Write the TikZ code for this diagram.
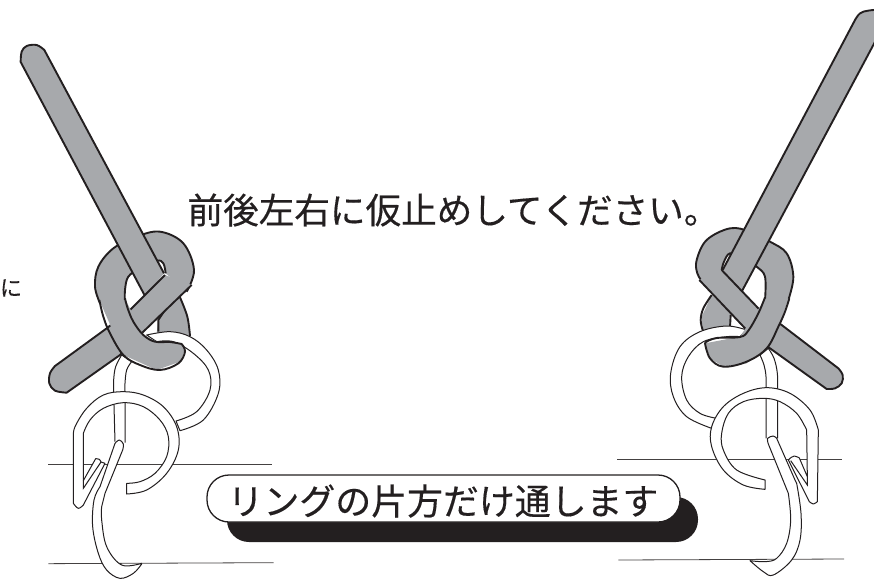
\documentclass[tikz,border=0pt]{standalone}
\usepackage{fontspec}
\setmainfont{Noto Sans CJK JP}
\newfontfamily\capfont[FakeBold=0.35]{Noto Sans CJK JP}
\definecolor{strapgrey}{HTML}{A7A9AC}
\definecolor{inkblack}{HTML}{231F20}
\tikzset{
  strap/.style={fill=strapgrey,draw=inkblack,line width=1.9pt,line join=round},
  bareedge/.style={draw=inkblack,line width=1.9pt,line join=round},
  wire/.style={fill=white,draw=inkblack,line width=1pt,line join=round},
  thinedge/.style={draw=inkblack,line width=1pt},
  rulerline/.style={draw=inkblack!85,line width=.8pt},
  sm/.style={smooth,tension=.6},
  caption/.style={text=inkblack,inner sep=0pt}
}
\begin{document}
\begin{tikzpicture}[x=1pt,y=-1pt]
\useasboundingbox (0,0) rectangle (874,579);
\clip (0,0) rectangle (874,579);
% ---------- left figure (coordinates: 3x, origin at 0,220)
\begin{scope}[x=.33333pt,y=-.33333pt,yshift=-220pt]
\coordinate (LA) at (145,732); \coordinate (LB) at (817,732);
\coordinate (LC) at (145,1031); \coordinate (LD) at (821,1028);
\draw[rulerline] (LA) -- (LB);
\draw[rulerline] (LC) -- (LD);
% back piece
\fill[strapgrey] (470,340) -- (475,300) -- (500,255) -- (540,232) -- (562,290) -- (570,348) -- (520,335) -- cycle;
\draw[bareedge] (475,335) -- (475,300) -- (500,262);
\draw[bareedge] plot[sm] coordinates {(540,232) (562,290) (570,348)};
% ring 1
\draw[wire] plot[sm] coordinates {(540,632) (610,600) (655,520) (655,450) (620,390) (570,350) (510,335) (440,345)} -- plot[sm] coordinates {(470,365) (520,365) (580,400) (625,450) (630,510) (590,575) (528,603)} -- cycle;
% strip
\draw[wire] (345,665) -- plot[sm] coordinates {(341,520) (341,480) (347,440) (365,405)} -- plot[sm] coordinates {(395,425) (380,450) (375,490) (375,520)} -- (375,668);
% loop: C-shaped upper part, implicit fill closure hidden below
\path[strap] plot[sm] coordinates {(560,215) (582,150) (550,70) (480,35) (410,50) (340,85) (295,140) (285,200) (300,250)} -- (375,250) -- plot[sm] coordinates {(375,250) (375,210) (385,170) (420,145) (470,122) (490,130) (497,160)};
% long strap
\path[strap] (492,160) -- (133,-510) -- plot[sm] coordinates {(133,-510) (110,-525) (80,-522) (65,-505) (62,-474)} -- (435,228);
% diagonal
\path[strap] (495,165) -- (390,270) -- (320,325) -- (165,438) -- plot[sm] coordinates {(165,438) (150,460) (148,490) (165,512) (200,518)} -- (360,405) -- (430,335) -- (575,195);
% left band on top
\path[fill=strapgrey] (298,240) -- (377,240) -- (430,345) -- (470,365) -- (545,370) -- (555,390) -- (540,425) -- (470,450) -- (370,405) -- cycle;
\draw[bareedge] plot[sm] coordinates {(298,240) (310,290) (330,340) (370,405) (420,435) (480,450) (535,430) (555,395) (545,372)} -- plot[sm] coordinates {(545,372) (510,366) (465,365) (430,345) (400,305) (383,265) (375,235)};
% ring 2
\draw[wire] plot[sm] coordinates {(380,822) (440,810) (500,760) (535,690) (530,620) (490,560) (430,525) (370,515) (310,525) (260,565) (225,620) (220,650)} -- (220,850) -- plot[sm] coordinates {(220,850) (235,865) (250,855)} -- (315,730) -- plot[sm] coordinates {(303,726) (298,718) (287,716)} -- (250,782) -- (250,640) -- plot[sm] coordinates {(250,640) (270,600) (310,565) (370,548) (430,560) (480,600) (505,650) (500,710) (465,760) (420,785) (380,790)} -- cycle;
\draw[thinedge] (250,782) -- (250,805) -- (303,726);
% hook
\draw[wire] plot[sm] coordinates {(345,670) (358,660) (370,672) (368,690)} -- (315,820) -- plot[sm] coordinates {(305,860) (305,900) (320,980) (365,1035) (425,1030)} -- plot[sm] coordinates {(425,1032) (400,1060) (360,1075) (320,1050) (295,1000) (278,920) (282,840) (300,800)} -- cycle;
\end{scope}
% ---------- right figure (coordinates: 3x, origin at 600,220)
\begin{scope}[x=.33333pt,y=-.33333pt,xshift=600pt,yshift=-220pt]
\coordinate (RA) at (52,718); \coordinate (RB) at (725,718);
\coordinate (RC) at (55,1020); \coordinate (RD) at (732,1017);
\draw[rulerline] (RA) -- (RB);
\draw[rulerline] (RC) -- (RD);
% back piece
\fill[strapgrey] (335,225) -- (305,290) -- (308,330) -- (390,322) -- (392,280) -- cycle;
\draw[bareedge] plot[sm] coordinates {(335,225) (310,265) (302,300) (308,330)};
\draw[bareedge] (390,322) -- (392,285);
% ring 1
\draw[wire] plot[sm] coordinates {(335,625) (260,590) (220,530) (212,460) (240,380) (300,335) (380,318) (440,330)} -- plot[sm] coordinates {(420,350) (380,350) (310,365) (265,410) (245,470) (260,540) (300,580) (350,595)} -- cycle;
% strip
\draw[wire] (498,655) -- plot[sm] coordinates {(498,520) (498,470) (492,435) (480,405)} -- plot[sm] coordinates {(505,385) (522,415) (532,460) (533,520)} -- (533,655);
% loop
\path[strap] plot[sm] coordinates {(310,190) (292,160) (290,120) (320,60) (390,25) (450,35) (510,65) (560,100) (580,170) (565,240)} -- (495,240) -- plot[sm] coordinates {(495,240) (495,170) (470,140) (430,110) (390,100) (372,125) (365,150)};
% long strap
\path[strap] (368,150) -- (765,-600) -- plot[sm] coordinates {(765,-600) (780,-620) (804,-628) (840,-628) (860,-600)} -- (425,215);
% diagonal
\path[strap] (365,150) -- (475,265) -- (545,315) -- (715,445) -- plot[sm] coordinates {(715,445) (728,465) (725,490) (705,505) (680,507)} -- (510,385) -- (440,330) -- (298,180);
% right band on top
\path[fill=strapgrey] (497,235) -- (566,235) -- (540,310) -- (500,385) -- (440,430) -- (370,440) -- (330,415) -- (315,370) -- (420,350) -- cycle;
\draw[bareedge] plot[sm] coordinates {(568,235) (555,275) (535,320) (500,385) (440,425) (370,440) (330,415) (315,370)} -- plot[sm] coordinates {(318,366) (350,354) (420,351) (445,332) (475,280) (495,232)};
% ring 2
\draw[wire] plot[sm] coordinates {(495,808) (430,795) (370,750) (335,680) (335,620) (370,560) (430,520) (500,503) (570,520) (630,570) (655,630)} -- (652,845) -- plot[sm] coordinates {(652,845) (640,852) (628,845)} -- (565,720) -- plot[sm] coordinates {(570,715) (583,708) (598,714)} -- (622,770) -- (620,630) -- plot[sm] coordinates {(620,630) (590,580) (540,545) (490,535) (430,545) (385,580) (365,640) (370,690) (410,750) (495,780)} -- cycle;
\draw[thinedge] (622,770) -- (622,795) -- (572,722);
% hook
\draw[wire] plot[sm] coordinates {(505,672) (503,655) (520,648) (530,655)} -- (585,780) -- plot[sm] coordinates {(590,790) (603,880) (600,960) (575,1020) (520,1065) (490,1055) (450,1022)} -- plot[sm] coordinates {(450,1022) (495,1025) (530,1015) (560,970) (572,900) (565,820)} -- cycle;
\end{scope}
% ---------- captions
\node[caption,font=\capfont\fontsize{35.6}{36}\selectfont,anchor=center] (topcap) at (453.5,210) {前後左右に仮止めしてください。};
\node[caption,font=\capfont\fontsize{22}{23}\selectfont,anchor=center] (sidecap) at (11,288) {に};
\node[fill=inkblack,rounded corners=22pt,minimum width=471pt,minimum height=45pt,inner sep=0pt] (shadowbox) at (462.5,519.5) {};
\node[fill=white,draw=inkblack,line width=1.3pt,rounded corners=22pt,minimum width=473pt,minimum height=47pt,inner sep=0pt] (labelbox) at (443.5,498.5) {};
\node[caption,font=\capfont\fontsize{35.9}{36}\selectfont,anchor=center] (labeltext) at (443,501) {リングの片方だけ通します};
\end{tikzpicture}
\end{document}
